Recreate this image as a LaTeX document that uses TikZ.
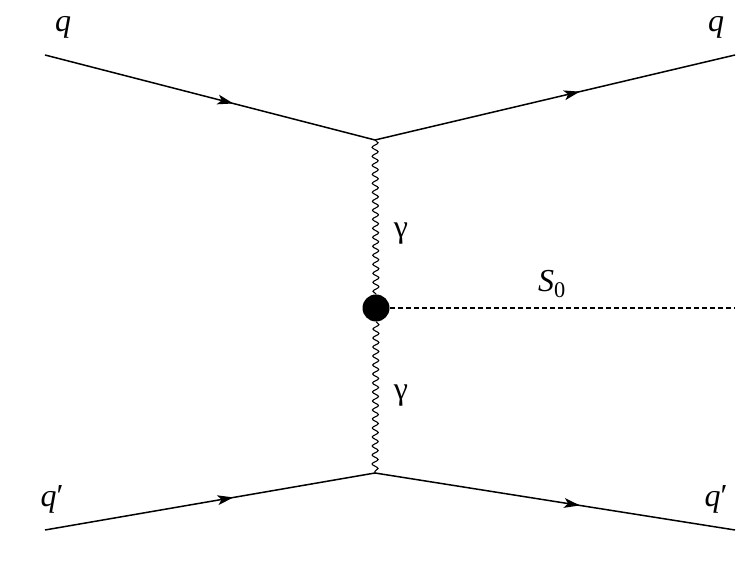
\documentclass[tikz,border=0pt]{standalone}
\usepackage{fontspec}
\setmainfont{Liberation Serif}
\newfontfamily\tms{Liberation Serif}
\usetikzlibrary{decorations.pathmorphing,decorations.markings}
\begin{document}
\begin{tikzpicture}[x=1pt,y=1pt,
  fermion/.style={line width=1.5pt,postaction={decorate},decoration={markings,mark=at position 0.55 with {\fill (-9pt,-5pt) -- (7pt,0pt) -- (-9pt,5pt) -- (-5pt,0pt) -- cycle;}}},
  photon/.style={line width=1.1pt,decorate,decoration={snake,amplitude=3pt,segment length=9pt}},
  scalar/.style={line width=1.1pt,dash pattern=on 5pt off 3pt},
  lab/.style={font=\tms\fontsize{32}{32}\selectfont}]
\useasboundingbox (0,0) rectangle (744,569);
\coordinate (a) at (45,514);
\coordinate (b) at (735,514);
\coordinate (c) at (45,39);
\coordinate (d) at (735,39);
\coordinate (v1) at (375,429);
\coordinate (v2) at (375,96);
\coordinate (e) at (735,261);
\node[circle,fill=black,minimum size=27pt,inner sep=0] (blob) at (376,261) {};
\draw[fermion] (a) -- (v1);
\draw[fermion] (v1) -- (b);
\draw[fermion] (c) -- (v2);
\draw[fermion] (v2) -- (d);
\draw[photon] (v1) -- (blob.north);
\draw[photon] (blob.south) -- (v2);
\draw[scalar] (blob.east) -- (e);
\node[lab] (l1) at (63,542) {\itshape q};
\node[lab] (l2) at (716,542) {\itshape q};
\node[lab] (l3) at (52,70) {\itshape q\upshape\char"2032};
\node[lab] (l4) at (716,70) {\itshape q\upshape\char"2032};
\node[lab] (g1) at (401,335) {γ};
\node[lab] (g2) at (401,173) {γ};
\node[lab] (s) at (552,285) {\itshape S\textsubscript{\upshape 0}};
\end{tikzpicture}
\end{document}
